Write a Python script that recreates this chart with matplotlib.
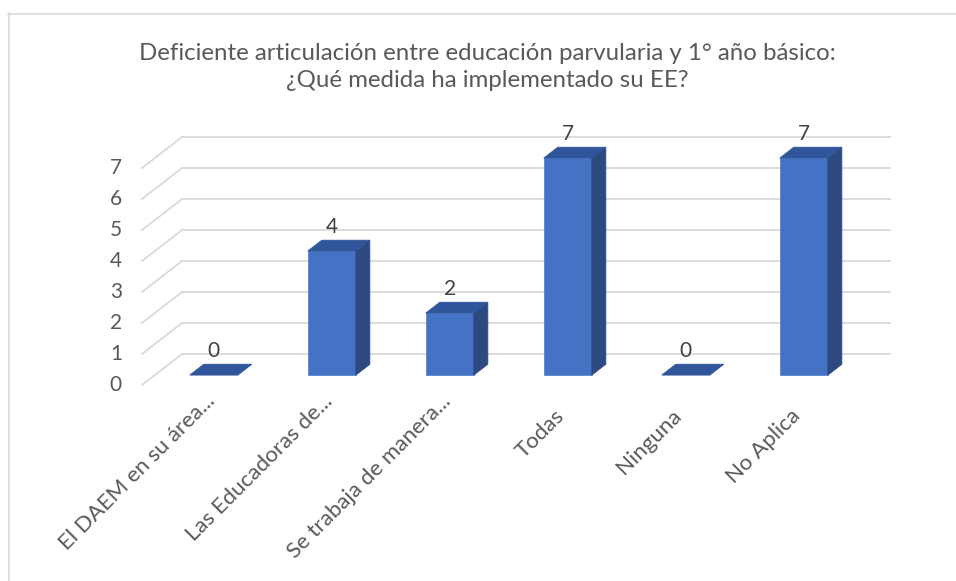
import matplotlib
matplotlib.use('Agg')
import matplotlib.pyplot as plt
from matplotlib.patches import Polygon
from matplotlib.lines import Line2D

categories = ["El DAEM en su área...", "Las Educadoras de...", "Se trabaja de manera...",
              "Todas", "Ninguna", "No Aplica"]
values = [0, 4, 2, 7, 0, 7]
y_ticks = [0, 1, 2, 3, 4, 5, 6, 7]
title = "Deficiente articulación entre educación parvularia y 1° año básico:\n¿Qué medida ha implementado su EE?"

plt.rcParams['font.family'] = ['Lato', 'DejaVu Sans']

W, H = 956, 581
fig = plt.figure(figsize=(W / 100, H / 100), dpi=100)

# frame of chart area
fig.add_artist(Line2D([8.5 / W, 8.5 / W], [0, 1 - 13 / H], color='#d9d9d9', lw=1.2))
fig.add_artist(Line2D([8 / W, 1], [1 - 13.5 / H, 1 - 13.5 / H], color='#d9d9d9', lw=1.2))

x0px, x1px = 142, 890
y0px, y1px = 385, 137
ax = fig.add_axes([x0px / W, 1 - y0px / H, (x1px - x0px) / W, (y0px - y1px) / H])
ax.axis('off')
n = len(categories)
DX = 40 / 118
DY = 1.0
ax.set_xlim(0, n + DX)
ax.set_ylim(0, max(y_ticks) + DY)

grid_c = '#d9d9d9'
for v in y_ticks:
    ax.plot([DX, n + DX], [v + DY, v + DY], color=grid_c, lw=1.3, zorder=1, clip_on=False)
    ax.plot([0, DX], [v, v + DY], color=grid_c, lw=1.3, zorder=1, clip_on=False)
    ax.text(-0.17, v, str(v), ha='right', va='center', fontsize=15, color='#595959')

f0, f1 = 0.32, 0.67
w = 0.407
front_c = '#4472c4'
side_c = '#2c4a80'
top_c = '#30559a'
ddx = (f1 - f0) * DX
ddy = (f1 - f0) * DY
for i, (cat, v) in enumerate(zip(categories, values)):
    cx = i + 0.5
    xl = cx - w / 2 + f0 * DX
    xr = xl + w
    yb = f0 * DY
    yt = v + f0 * DY
    if v > 0:
        ax.add_patch(Polygon([(xl, yb), (xr, yb), (xr, yt), (xl, yt)], closed=True,
                             facecolor=front_c, edgecolor='#5a86d0', lw=0.6, zorder=3))
        ax.add_patch(Polygon([(xr, yb), (xr + ddx, yb + ddy), (xr + ddx, yt + ddy), (xr, yt)],
                             closed=True, facecolor=side_c, edgecolor=side_c, lw=0.6, zorder=3))
    ax.add_patch(Polygon([(xl, yt), (xr, yt), (xr + ddx, yt + ddy), (xl + ddx, yt + ddy)],
                         closed=True, facecolor=top_c, edgecolor=top_c, lw=0.6, zorder=3))
    ax.text(xl + w / 2, yt + ddy + 0.1, str(v), ha='center', va='bottom', fontsize=15,
            color='#404040', zorder=4)
    if cat.endswith('...'):
        lx, ly = xl + w / 2 - 0.017, -0.42
    else:
        lx, ly = xl + w / 2 - 0.06, -0.90
    ax.text(lx, ly, cat, rotation=45, rotation_mode='anchor', ha='right',
            va='center', fontsize=16, color='#595959')

fig.text(487 / W, 1 - 67 / H, title, ha='center', va='center', fontsize=17.3,
         color='#595959', linespacing=1.3)

fig.savefig('out.png', dpi=100)
